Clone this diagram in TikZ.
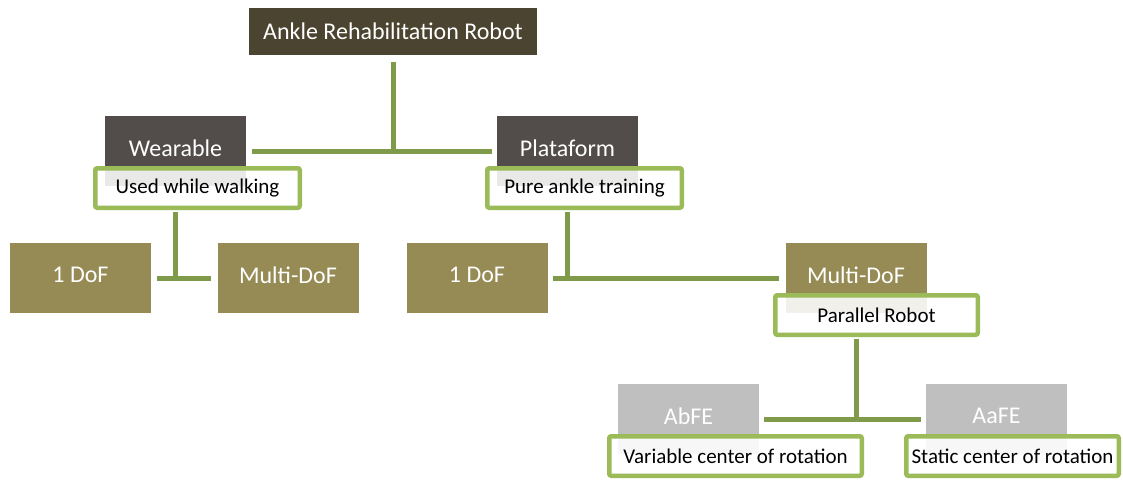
\documentclass[tikz,border=0pt]{standalone}
\usepackage{fontspec}
\setmainfont{Carlito}
\definecolor{topcol}{HTML}{4A4430}
\definecolor{catcol}{HTML}{524D4A}
\definecolor{dofcol}{HTML}{968B55}
\definecolor{graycol}{HTML}{BFBFBF}
\definecolor{linecol}{HTML}{7F9B4A}
\definecolor{labcol}{HTML}{9BBB59}
\tikzset{
  box/.style={rectangle, inner sep=0pt, text=white, font=\fontsize{24}{28}\selectfont,
    minimum width=141pt, minimum height=70pt},
  topbox/.style={box, fill=topcol, minimum width=288pt, minimum height=47pt},
  catbox/.style={box, fill=catcol},
  dofbox/.style={box, fill=dofcol},
  graybox/.style={box, fill=graycol},
  labbox/.style={rectangle, rounded corners=2pt, draw=labcol, line width=4.5pt, fill=white,
    fill opacity=0.88, text opacity=1, text=black, inner sep=0pt,
    font=\fontsize{21}{25}\selectfont, minimum height=39.5pt},
  conn/.style={draw=linecol, line width=5pt}
}
\newcommand{\upbox}[1]{\raisebox{6.5pt}{#1}}
\newcommand{\dnlab}[1]{\raisebox{-1.5pt}{#1}}
\begin{document}
\begin{tikzpicture}[x=1pt,y=-1pt]
\useasboundingbox (0,0) rectangle (1123,479);
% boxes
\node[topbox] (top) at (393,31.5) {Ankle Rehabilitation Robot};
\node[catbox] (wear) at (175.5,151) {\upbox{Wearable}};
\node[catbox] (plat) at (567.5,151) {\upbox{Plataform}};
\node[dofbox] (d1) at (80.5,278) {\upbox{1 DoF}};
\node[dofbox] (m1) at (288,278) {\upbox{Multi-DoF}};
\node[dofbox] (d2) at (477,278) {\upbox{1 DoF}};
\node[dofbox] (m2) at (856,278) {\upbox{Multi-DoF}};
\node[graybox] (ab) at (688.5,419) {\upbox{AbFE}};
\node[graybox] (aa) at (996.5,419) {\upbox{AaFE}};
% labels
\node[labbox, minimum width=204.5pt] (wlab) at (197.5,188) {\dnlab{Used while walking}};
\node[labbox, minimum width=194.5pt] (plab) at (584.5,188) {\dnlab{Pure ankle training}};
\node[labbox, minimum width=202.5pt] (prlab) at (876.5,315) {\dnlab{Parallel Robot}};
\node[labbox, minimum width=252.5pt] (vlab) at (735.5,456) {\dnlab{Variable center of rotation}};
\node[labbox, minimum width=212.5pt] (slab) at (1012.5,456) {\dnlab{Static center of rotation}};
% connectors
\coordinate (j1) at (top.south |- wear.east);
\draw[conn, shorten <=7pt] (top.south) -- (j1);
\draw[conn, shorten <=6pt, shorten >=5pt] (wear.east) -- (plat.west);
\draw[conn, shorten <=2pt] (wear.south |- wlab.south) -- (wear.south |- d1.east);
\draw[conn, shorten <=6pt, shorten >=6pt] (d1.east) -- (m1.west);
\draw[conn, shorten <=2pt] (plat.south |- plab.south) -- (plat.south |- d2.east);
\draw[conn, shorten <=5pt, shorten >=6pt] (d2.east) -- (d2.east -| m2.west);
\draw[conn, shorten <=2pt] (m2.south |- prlab.south) -- (m2.south |- ab.east);
\draw[conn, shorten <=5pt, shorten >=5pt] (ab.east) -- (aa.west);
\end{tikzpicture}
\end{document}
